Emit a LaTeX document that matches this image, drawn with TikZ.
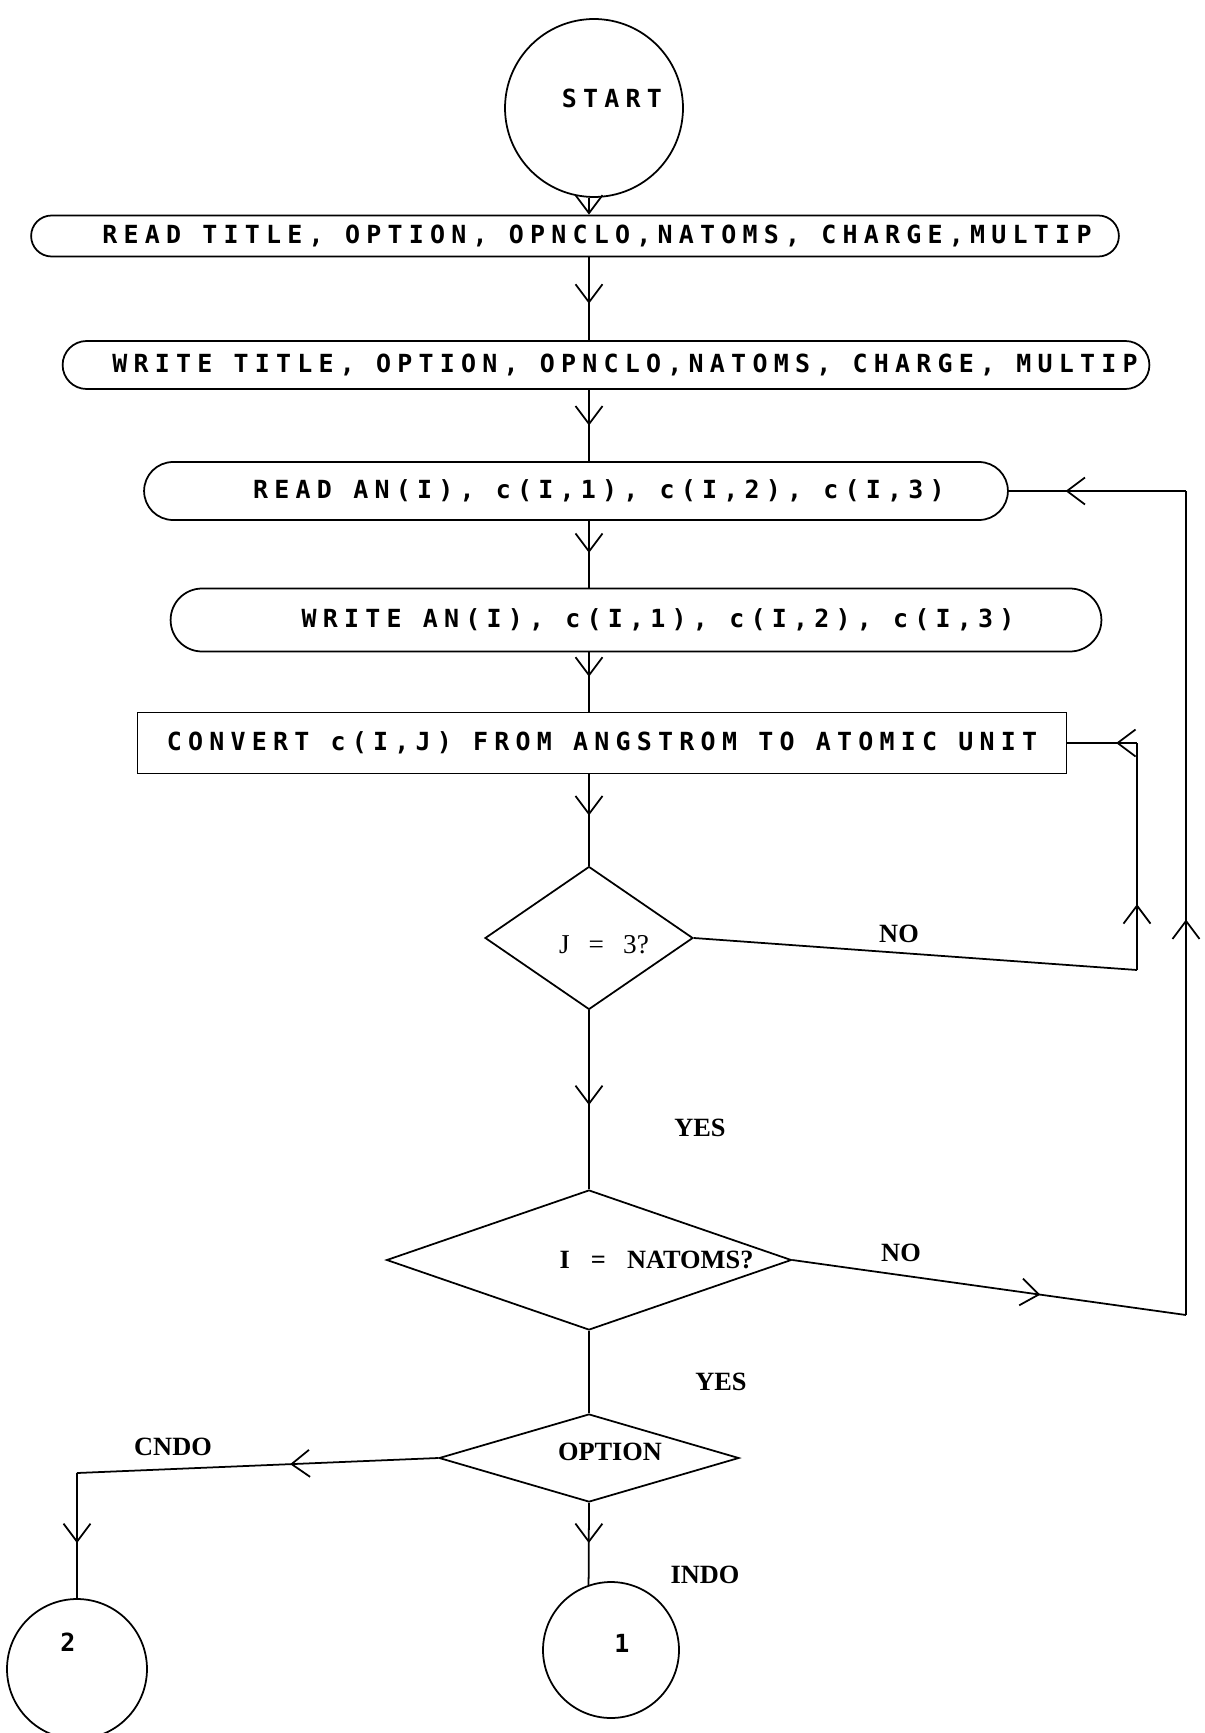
\documentclass[tikz,border=0pt]{standalone}
\usepackage{fontspec}
\newfontfamily\plotfont[LetterSpace=25]{DejaVu Sans Mono}
\newfontfamily\lblfont{Liberation Serif}
\usetikzlibrary{positioning,arrows.meta,shapes.geometric,shapes.misc,decorations.markings}

\begin{document}
\begin{tikzpicture}[
      x=0.02cm, y=-0.02cm,
      line width=1pt,
      >={Straight Barb[length=3.6mm,width=5.4mm]},
      plotfnt/.style={font=\plotfont\bfseries\fontsize{14.2}{16}\selectfont},
      dtext/.style={font=\lblfont\fontsize{15.5}{18}\selectfont},
      lbl/.style={font=\lblfont\fontsize{15}{18}\selectfont\bfseries},
      iobox/.style={rounded rectangle,draw,plotfnt,inner sep=0pt},
      procbox/.style={rectangle,draw,plotfnt,inner sep=0pt},
      decision/.style={diamond,draw,inner sep=0pt},
      term/.style={circle,draw,inner sep=0pt},
      flowto/.style={postaction={decorate},
                     decoration={markings,mark=at position #1 with {\arrow{>}}}}]
    \useasboundingbox (0,0) rectangle (1204,1733);
    \coordinate (spine) at (589,0);

    % boxes of the main column
    \node[term,minimum size=3.56cm,
          label={[plotfnt,xshift=.36cm,yshift=.2cm]center:START}] (start) at (594,108) {};
    \node[iobox,minimum width=21.76cm,minimum height=0.82cm] (rdtitle) at (575,236)
      {\hspace*{0.88cm}READ TITLE, OPTION, OPNCLO,NATOMS, CHARGE,MULTIP};
    \node[iobox,minimum width=21.74cm,minimum height=0.96cm] (wrtitle) at (606,365)
      {\hspace*{0.76cm}WRITE TITLE, OPTION, OPNCLO,NATOMS, CHARGE, MULTIP};
    \node[iobox,minimum width=17.28cm,minimum height=1.16cm] (rdan) at (576,491)
      {\hspace*{0.92cm}READ AN(I), c(I,1), c(I,2), c(I,3)};
    \node[iobox,minimum width=18.62cm,minimum height=1.26cm] (wran) at (636,620)
      {\hspace*{0.88cm}WRITE AN(I), c(I,1), c(I,2), c(I,3)};
    \node[procbox,minimum width=18.58cm,minimum height=1.22cm] (conv) at (602,743)
      {CONVERT c(I,J) FROM ANGSTROM TO ATOMIC UNIT};

    % tests
    \node[decision,minimum width=4.16cm,minimum height=2.86cm,
          label={[dtext,xshift=.3cm,yshift=-.14cm]center:{J\hspace{0.7em}=\hspace{0.7em}3?}}] (jtest) at (589,938) {};
    \node[decision,minimum width=8.1cm,minimum height=2.8cm,
          label={[lbl,xshift=1.35cm]center:{I\hspace{0.8em}=\hspace{0.8em}NATOMS?}}] (itest) at (589,1260) {};
    \node[decision,minimum width=6cm,minimum height=1.76cm,
          label={[lbl,xshift=.42cm,yshift=.12cm]center:OPTION}] (opt) at (589,1458) {};

    % connectors to the next parts
    \node[term,minimum size=2.72cm,
          label={[plotfnt,xshift=.22cm,yshift=.14cm]center:1}] (one) at (611,1650) {};
    \node[term,minimum size=2.8cm,
          label={[plotfnt,xshift=-.18cm,yshift=.54cm]center:2}] (two) at (77,1669) {};

    % branch labels
    \node[lbl] (no1) at (899,934) {NO};
    \node[lbl] (yes1) at (700,1128) {YES};
    \node[lbl] (no2) at (901,1253) {NO};
    \node[lbl] (yes2) at (721,1382) {YES};
    \node[lbl] (cndo) at (173,1447) {CNDO};
    \node[lbl] (indo) at (705,1575) {INDO};

    \coordinate (jcorner) at (1137,970);
    \coordinate (icorner) at (1186,1315);
    \coordinate (ccorner) at (77,1473);

    % main flow
    \draw[->] (start.south -| spine) -- (rdtitle.north -| spine);
    \draw[flowto=0.56] (rdtitle.south -| spine) -- (wrtitle.north -| spine);
    \draw[flowto=0.5] (wrtitle.south -| spine) -- (rdan.north -| spine);
    \draw[flowto=0.48] (rdan.south -| spine) -- (wran.north -| spine);
    \draw[flowto=0.41] (wran.south -| spine) -- (conv.north -| spine);
    \draw[flowto=0.45] (conv.south -| spine) -- (jtest.north);
    \draw[flowto=0.53] (jtest.south) -- (itest.north);
    \draw (itest.south) -- (opt.north);
    \draw[flowto=0.49] (opt.south) -- (one.109);

    % loop over J
    \draw (jtest.east) -- (jcorner);
    \draw[flowto=0.29] (jcorner) -- (jcorner |- conv.east);
    \draw[flowto=0.3] (jcorner |- conv.east) -- (conv.east);

    % loop over atoms
    \draw[flowto=0.63] (itest.east) -- (icorner);
    \draw[flowto=0.48] (icorner) -- (icorner |- rdan.east);
    \draw[flowto=0.68] (icorner |- rdan.east) -- (rdan.east);

    % CNDO branch
    \draw[flowto=0.41] (opt.west) -- (ccorner);
    \draw[flowto=0.56] (ccorner) -- (two.north);
\end{tikzpicture}
\end{document}
